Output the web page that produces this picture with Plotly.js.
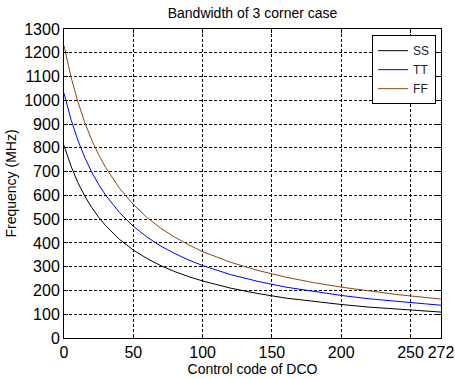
<!DOCTYPE html>
<html>
<head>
<meta charset="utf-8">
<script src="https://cdn.plot.ly/plotly-3.0.1.min.js"></script>
<style>html,body{margin:0;padding:0;background:#fff;}#chart{width:455px;height:379px;}</style>
</head>
<body>
<div id="chart"></div>
<script>
const code = [0, 5, 10, 15, 20, 25, 30, 40, 50, 60, 70, 80, 90, 100, 120, 140, 160, 180, 200, 220, 240, 260, 272];
const ssFreq = [810, 724, 654, 597, 549, 508, 473, 415, 370, 334, 304, 279, 258, 240, 210, 187, 168, 153, 141, 130, 121, 113, 109];
const ttFreq = [1030, 920, 832, 759, 698, 646, 601, 528, 470, 424, 386, 355, 328, 305, 267, 238, 214, 195, 179, 165, 153, 144, 138];
const ffFreq = [1230, 1099, 994, 906, 833, 771, 718, 630, 562, 506, 461, 424, 392, 363, 319, 284, 256, 233, 214, 197, 183, 171, 164];
const xTicks = [0, 50, 100, 150, 200, 250, 272];
const yTicks = [0, 100, 200, 300, 400, 500, 600, 700, 800, 900, 1000, 1100, 1200, 1300];

const traces = [
  {x: code, y: ssFreq, name: 'SS', mode: 'lines', line: {color: '#000000', width: 1}},
  {x: code, y: ttFreq, name: 'TT', mode: 'lines', line: {color: '#0000ff', width: 1}},
  {x: code, y: ffFreq, name: 'FF', mode: 'lines', line: {color: '#8b4513', width: 1}}
];

const axisCommon = {
  showline: true, linecolor: '#000', linewidth: 1, mirror: 'ticks',
  showgrid: true, gridcolor: '#000', gridwidth: 1, griddash: '3px,2px',
  ticks: 'inside', ticklen: 4, tickcolor: '#000',
  zeroline: false,
  tickfont: {family: 'Liberation Sans, Arial, sans-serif', size: 16, color: '#000'}
};

const layout = {
  width: 455, height: 379,
  margin: {l: 64, r: 14, t: 29, b: 41},
  paper_bgcolor: '#fff', plot_bgcolor: '#fff',
  title: {text: 'Bandwidth of 3 corner case', x: 0.555, xanchor: 'center', y: 0.965, yanchor: 'middle',
          font: {family: 'Liberation Sans, Arial, sans-serif', size: 14, color: '#000'}},
  xaxis: Object.assign({}, axisCommon, {
    range: [0, 272], tickvals: xTicks, ticktext: xTicks.map(String),
    title: {text: 'Control code of DCO', standoff: 2,
            font: {family: 'Liberation Sans, Arial, sans-serif', size: 14, color: '#000'}}
  }),
  yaxis: Object.assign({}, axisCommon, {
    range: [0, 1300], tickvals: yTicks, ticktext: yTicks.map(String),
    title: {text: 'Frequency (MHz)', standoff: 4,
            font: {family: 'Liberation Sans, Arial, sans-serif', size: 14, color: '#000'}}
  }),
  showlegend: true,
  legend: {
    x: 0.987, xanchor: 'right', y: 0.98, yanchor: 'top',
    bgcolor: '#fff', bordercolor: '#000', borderwidth: 1,
    font: {family: 'Liberation Sans, Arial, sans-serif', size: 12, color: '#222'},
    tracegroupgap: 0, itemwidth: 30
  }
};

Plotly.newPlot('chart', traces, layout, {displayModeBar: false, staticPlot: true});
</script>
</body>
</html>
